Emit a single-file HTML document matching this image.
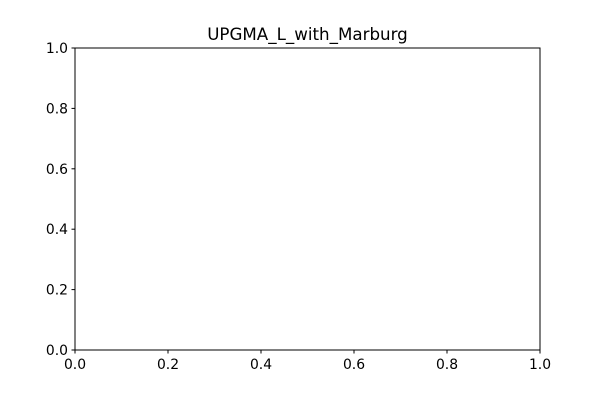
<!DOCTYPE html>
<html><head><meta charset="utf-8"><style>
body{margin:0;background:#fff;}
svg text{font-family:"DejaVu Sans","Liberation Sans",sans-serif;fill:#000;}
</style></head><body>
<svg width="600" height="400" xmlns="http://www.w3.org/2000/svg">
<rect width="600" height="400" fill="#fff"/>
<text x="307.5" y="40" font-size="16.7" text-anchor="middle">UPGMA_L_with_Marburg</text>
<rect x="75" y="48" width="465" height="302" fill="none" stroke="#000" stroke-width="1"/>
<g id="xt"></g>
<g id="yt"></g>
</svg>
<script>
const xTicks=[0,0.2,0.4,0.6,0.8,1.0];
const yTicks=[0,0.2,0.4,0.6,0.8,1.0];
const xTickLabels=["0.0","0.2","0.4","0.6","0.8","1.0"];
const yTickLabels=["0.0","0.2","0.4","0.6","0.8","1.0"];
const NS="http://www.w3.org/2000/svg";
const sx=v=>75+v*465, sy=v=>350-v*302;
const xg=document.getElementById('xt'), yg=document.getElementById('yt');
xTicks.forEach((t,i)=>{
  const l=document.createElementNS(NS,'line');
  
  
  l.setAttribute('x1',sx(t));l.setAttribute('x2',sx(t));l.setAttribute('y1',350);l.setAttribute('y2',353.5);l.setAttribute('stroke','#000');
  xg.appendChild(l);
  const tx=document.createElementNS(NS,'text');
  
  
  tx.setAttribute('x',sx(t));tx.setAttribute('y',369);tx.setAttribute('font-size','13.9');tx.setAttribute('text-anchor','middle');
  tx.textContent=xTickLabels[i];xg.appendChild(tx);
});
yTicks.forEach((t,i)=>{
  const l=document.createElementNS(NS,'line');
  
  
  l.setAttribute('x1',71.5);l.setAttribute('x2',75);l.setAttribute('y1',sy(t));l.setAttribute('y2',sy(t));l.setAttribute('stroke','#000');
  yg.appendChild(l);
  const tx=document.createElementNS(NS,'text');
  
  
  tx.setAttribute('x',68);tx.setAttribute('y',sy(t)+5);tx.setAttribute('font-size','13.9');tx.setAttribute('text-anchor','end');
  tx.textContent=yTickLabels[i];yg.appendChild(tx);
});
</script>
</body></html>
